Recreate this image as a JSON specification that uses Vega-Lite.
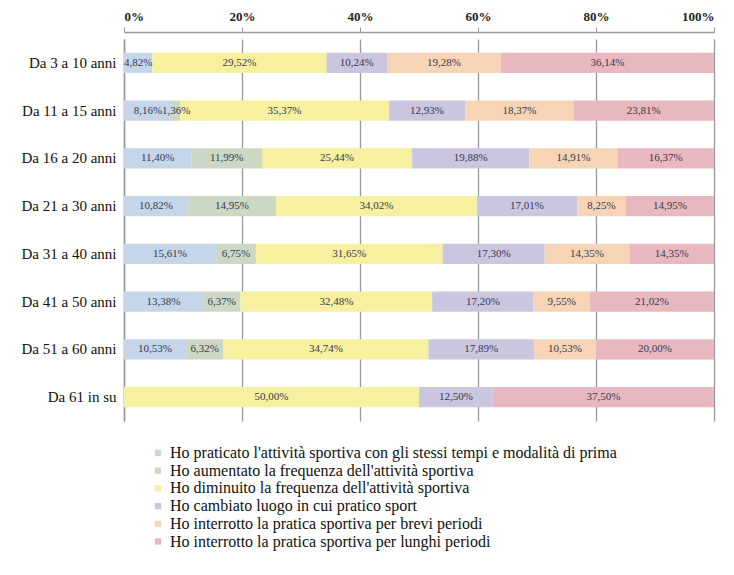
{
  "$schema": "https://vega.github.io/schema/vega-lite/v6.json",
  "width": 590,
  "height": 382,
  "autosize": {"type": "none"},
  "padding": {"left": 124, "top": 39, "right": 20, "bottom": 154},
  "background": "white",
  "config": {
    "locale": {"number": {"decimal": ",", "thousands": ".", "grouping": [3], "currency": ["€", ""]}},
    "view": {"stroke": null},
    "font": "Liberation Serif, Times New Roman, serif"
  },
  "data": {"values": [
    {"age": "Da 3 a 10 anni", "k": 1, "cat": "Ho praticato l'attività sportiva con gli stessi tempi e modalità di prima", "value": 0.0482},
    {"age": "Da 3 a 10 anni", "k": 3, "cat": "Ho diminuito la frequenza dell'attività sportiva", "value": 0.2952},
    {"age": "Da 3 a 10 anni", "k": 4, "cat": "Ho cambiato luogo in cui pratico sport", "value": 0.1024},
    {"age": "Da 3 a 10 anni", "k": 5, "cat": "Ho interrotto la pratica sportiva per brevi periodi", "value": 0.1928},
    {"age": "Da 3 a 10 anni", "k": 6, "cat": "Ho interrotto la pratica sportiva per lunghi periodi", "value": 0.3614},
    {"age": "Da 11  a 15 anni", "k": 1, "cat": "Ho praticato l'attività sportiva con gli stessi tempi e modalità di prima", "value": 0.0816},
    {"age": "Da 11  a 15 anni", "k": 2, "cat": "Ho aumentato la frequenza dell'attività sportiva", "value": 0.0136},
    {"age": "Da 11  a 15 anni", "k": 3, "cat": "Ho diminuito la frequenza dell'attività sportiva", "value": 0.3537},
    {"age": "Da 11  a 15 anni", "k": 4, "cat": "Ho cambiato luogo in cui pratico sport", "value": 0.1293},
    {"age": "Da 11  a 15 anni", "k": 5, "cat": "Ho interrotto la pratica sportiva per brevi periodi", "value": 0.1837},
    {"age": "Da 11  a 15 anni", "k": 6, "cat": "Ho interrotto la pratica sportiva per lunghi periodi", "value": 0.2381},
    {"age": "Da 16 a 20 anni", "k": 1, "cat": "Ho praticato l'attività sportiva con gli stessi tempi e modalità di prima", "value": 0.1140},
    {"age": "Da 16 a 20 anni", "k": 2, "cat": "Ho aumentato la frequenza dell'attività sportiva", "value": 0.1199},
    {"age": "Da 16 a 20 anni", "k": 3, "cat": "Ho diminuito la frequenza dell'attività sportiva", "value": 0.2544},
    {"age": "Da 16 a 20 anni", "k": 4, "cat": "Ho cambiato luogo in cui pratico sport", "value": 0.1988},
    {"age": "Da 16 a 20 anni", "k": 5, "cat": "Ho interrotto la pratica sportiva per brevi periodi", "value": 0.1491},
    {"age": "Da 16 a 20 anni", "k": 6, "cat": "Ho interrotto la pratica sportiva per lunghi periodi", "value": 0.1637},
    {"age": "Da 21 a 30 anni", "k": 1, "cat": "Ho praticato l'attività sportiva con gli stessi tempi e modalità di prima", "value": 0.1082},
    {"age": "Da 21 a 30 anni", "k": 2, "cat": "Ho aumentato la frequenza dell'attività sportiva", "value": 0.1495},
    {"age": "Da 21 a 30 anni", "k": 3, "cat": "Ho diminuito la frequenza dell'attività sportiva", "value": 0.3402},
    {"age": "Da 21 a 30 anni", "k": 4, "cat": "Ho cambiato luogo in cui pratico sport", "value": 0.1701},
    {"age": "Da 21 a 30 anni", "k": 5, "cat": "Ho interrotto la pratica sportiva per brevi periodi", "value": 0.0825},
    {"age": "Da 21 a 30 anni", "k": 6, "cat": "Ho interrotto la pratica sportiva per lunghi periodi", "value": 0.1495},
    {"age": "Da 31 a 40 anni", "k": 1, "cat": "Ho praticato l'attività sportiva con gli stessi tempi e modalità di prima", "value": 0.1561},
    {"age": "Da 31 a 40 anni", "k": 2, "cat": "Ho aumentato la frequenza dell'attività sportiva", "value": 0.0675},
    {"age": "Da 31 a 40 anni", "k": 3, "cat": "Ho diminuito la frequenza dell'attività sportiva", "value": 0.3165},
    {"age": "Da 31 a 40 anni", "k": 4, "cat": "Ho cambiato luogo in cui pratico sport", "value": 0.1730},
    {"age": "Da 31 a 40 anni", "k": 5, "cat": "Ho interrotto la pratica sportiva per brevi periodi", "value": 0.1435},
    {"age": "Da 31 a 40 anni", "k": 6, "cat": "Ho interrotto la pratica sportiva per lunghi periodi", "value": 0.1435},
    {"age": "Da 41 a 50 anni", "k": 1, "cat": "Ho praticato l'attività sportiva con gli stessi tempi e modalità di prima", "value": 0.1338},
    {"age": "Da 41 a 50 anni", "k": 2, "cat": "Ho aumentato la frequenza dell'attività sportiva", "value": 0.0637},
    {"age": "Da 41 a 50 anni", "k": 3, "cat": "Ho diminuito la frequenza dell'attività sportiva", "value": 0.3248},
    {"age": "Da 41 a 50 anni", "k": 4, "cat": "Ho cambiato luogo in cui pratico sport", "value": 0.1720},
    {"age": "Da 41 a 50 anni", "k": 5, "cat": "Ho interrotto la pratica sportiva per brevi periodi", "value": 0.0955},
    {"age": "Da 41 a 50 anni", "k": 6, "cat": "Ho interrotto la pratica sportiva per lunghi periodi", "value": 0.2102},
    {"age": "Da 51 a 60 anni", "k": 1, "cat": "Ho praticato l'attività sportiva con gli stessi tempi e modalità di prima", "value": 0.1053},
    {"age": "Da 51 a 60 anni", "k": 2, "cat": "Ho aumentato la frequenza dell'attività sportiva", "value": 0.0632},
    {"age": "Da 51 a 60 anni", "k": 3, "cat": "Ho diminuito la frequenza dell'attività sportiva", "value": 0.3474},
    {"age": "Da 51 a 60 anni", "k": 4, "cat": "Ho cambiato luogo in cui pratico sport", "value": 0.1789},
    {"age": "Da 51 a 60 anni", "k": 5, "cat": "Ho interrotto la pratica sportiva per brevi periodi", "value": 0.1053},
    {"age": "Da 51 a 60 anni", "k": 6, "cat": "Ho interrotto la pratica sportiva per lunghi periodi", "value": 0.2000},
    {"age": "Da 61 in su", "k": 3, "cat": "Ho diminuito la frequenza dell'attività sportiva", "value": 0.5000},
    {"age": "Da 61 in su", "k": 4, "cat": "Ho cambiato luogo in cui pratico sport", "value": 0.1250},
    {"age": "Da 61 in su", "k": 6, "cat": "Ho interrotto la pratica sportiva per lunghi periodi", "value": 0.3750}
  ]},
  "transform": [
    {"stack": "value", "groupby": ["age"], "sort": [{"field": "k", "order": "ascending"}], "as": ["v0", "v1"]},
    {"calculate": "(datum.v0 + datum.v1) / 2", "as": "mid"}
  ],
  "encoding": {
    "y": {
      "field": "age", "type": "nominal", "sort": null,
      "scale": {"paddingInner": 0.58, "paddingOuter": 0.29},
      "axis": {"title": null, "labelFont": "Liberation Serif, Times New Roman, serif", "labelFontSize": 15, "labelColor": "#111", "labelPadding": 8, "ticks": false, "domainColor": "#999", "domainWidth": 1.5}
    }
  },
  "layer": [
    {
      "mark": {"type": "bar"},
      "encoding": {
        "x": {
          "field": "v0", "type": "quantitative", "scale": {"domain": [0, 1], "nice": false},
          "axis": {"orient": "top", "title": null, "values": [0, 0.2, 0.4, 0.6, 0.8, 1], "format": ".0%", "labelFont": "Liberation Serif, Times New Roman, serif", "labelFontSize": 13, "labelFontWeight": "bold", "labelColor": "#222", "grid": true, "gridColor": "#999", "gridWidth": 1.3, "domainColor": "#999", "domainWidth": 1.5, "tickColor": "#999", "tickSize": 5, "offset": 7, "labelPadding": 4}
        },
        "x2": {"field": "v1"},
        "color": {
          "field": "cat", "type": "nominal",
          "scale": {
            "domain": [
              "Ho praticato l'attività sportiva con gli stessi tempi e modalità di prima",
              "Ho aumentato la frequenza dell'attività sportiva",
              "Ho diminuito la frequenza dell'attività sportiva",
              "Ho cambiato luogo in cui pratico sport",
              "Ho interrotto la pratica sportiva per brevi periodi",
              "Ho interrotto la pratica sportiva per lunghi periodi"
            ],
            "range": ["#c6d6ea", "#cdd8c4", "#f7f09e", "#cbc6df", "#f8d4b6", "#e9b8be"]
          },
          "legend": {
            "orient": "none", "legendX": 26, "legendY": 406, "direction": "vertical", "title": null,
            "symbolType": "square", "symbolSize": 40, "symbolStrokeWidth": 0,
            "labelFont": "Liberation Serif, Times New Roman, serif", "labelFontSize": 16, "labelColor": "#111", "labelLimit": 650, "rowPadding": 1.7, "labelOffset": 4
          }
        }
      }
    },
    {
      "mark": {"type": "text", "font": "Liberation Serif, Times New Roman, serif", "fontSize": 11, "color": "#34384f"},
      "encoding": {
        "x": {"field": "mid", "type": "quantitative"},
        "text": {"field": "value", "type": "quantitative", "format": ".2%"}
      }
    }
  ]
}
